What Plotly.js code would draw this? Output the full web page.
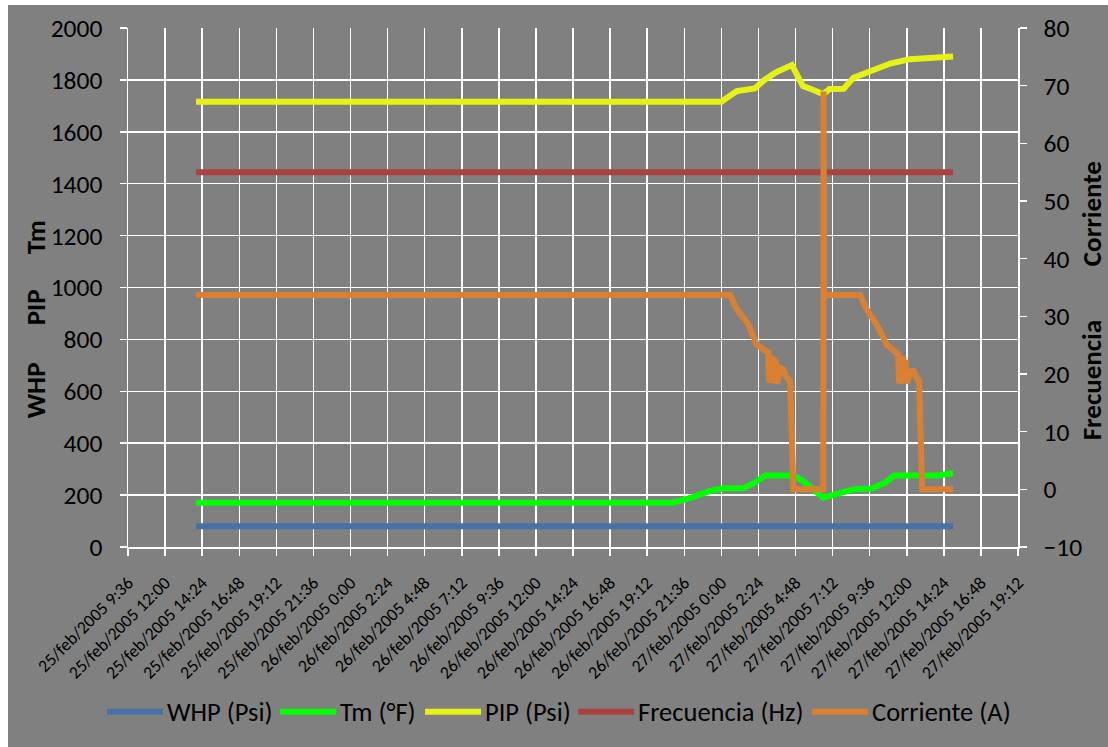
<!DOCTYPE html>
<html>
<head>
<meta charset="utf-8">
<script src="https://cdn.plot.ly/plotly-3.0.1.min.js"></script>
<style>
  html, body { margin: 0; padding: 0; background: #ffffff; }
  #chart { position: absolute; left: 8px; top: 5px; width: 1100px; height: 742px; }
</style>
</head>
<body>
<div id="chart"></div>
<script>
// ---- Data ----
const whpTime = ['2005-02-25 14:00', '2005-02-27 15:00'];
const whpPsi  = [80, 80];

const tmTime = ['2005-02-25 14:00', '2005-02-26 20:54', '2005-02-26 22:12', '2005-02-26 23:16',
  '2005-02-27 00:08', '2005-02-27 01:25', '2005-02-27 02:10', '2005-02-27 02:50', '2005-02-27 04:40',
  '2005-02-27 05:18', '2005-02-27 06:36', '2005-02-27 07:28', '2005-02-27 08:33', '2005-02-27 09:44',
  '2005-02-27 10:36', '2005-02-27 11:12', '2005-02-27 14:00', '2005-02-27 15:00'];
const tmF = [171, 171, 193, 216, 226, 226, 248, 276, 276, 254, 190, 203, 222, 225, 248, 276, 276, 284];

const pipTime = ['2005-02-25 14:00', '2005-02-27 00:00', '2005-02-27 01:00', '2005-02-27 02:10',
  '2005-02-27 02:50', '2005-02-27 03:30', '2005-02-27 04:34', '2005-02-27 05:17', '2005-02-27 06:00',
  '2005-02-27 06:36', '2005-02-27 07:00', '2005-02-27 07:55', '2005-02-27 08:33', '2005-02-27 09:51',
  '2005-02-27 10:56', '2005-02-27 12:12', '2005-02-27 13:30', '2005-02-27 15:00'];
const pipPsi = [1716, 1716, 1757, 1767, 1802, 1828, 1857, 1776, 1760, 1745, 1765, 1766, 1808, 1841,
  1863, 1880, 1886, 1890];

const frecTime = ['2005-02-25 14:00', '2005-02-27 15:00'];
const frecHz   = [55, 55];

const corrTime = ['2005-02-25 14:00', '2005-02-27 00:34', '2005-02-27 01:00', '2005-02-27 01:45',
  '2005-02-27 02:17', '2005-02-27 03:02', '2005-02-27 03:06', '2005-02-27 03:10', '2005-02-27 03:13',
  '2005-02-27 03:17', '2005-02-27 03:20', '2005-02-27 03:24', '2005-02-27 03:28', '2005-02-27 03:31',
  '2005-02-27 03:36', '2005-02-27 03:42', '2005-02-27 03:51', '2005-02-27 04:00', '2005-02-27 04:12',
  '2005-02-27 04:27', '2005-02-27 04:40', '2005-02-27 06:36', '2005-02-27 06:37', '2005-02-27 06:39',
  '2005-02-27 08:59', '2005-02-27 09:24', '2005-02-27 10:03', '2005-02-27 10:42', '2005-02-27 11:27',
  '2005-02-27 11:30', '2005-02-27 11:33', '2005-02-27 11:37', '2005-02-27 11:40', '2005-02-27 11:44',
  '2005-02-27 11:47', '2005-02-27 11:51', '2005-02-27 11:55', '2005-02-27 12:00', '2005-02-27 12:12',
  '2005-02-27 12:24', '2005-02-27 12:36', '2005-02-27 12:48', '2005-02-27 13:00', '2005-02-27 15:00'];
const corrA = [33.7, 33.7, 31.2, 28.6, 25.1, 23.7, 18.6, 23.2, 18.4, 23.0, 18.6, 22.8, 18.8, 22.5,
  18.3, 19.5, 21.0, 20.8, 19.5, 18.8, 0, 0, 69, 33.7, 33.7, 31.2, 28.6, 25.1, 23.4, 18.4, 23.2, 18.3,
  23.0, 18.5, 22.8, 18.6, 22.4, 18.4, 20.0, 20.8, 19.5, 18.8, 0, 0];

const seriesNames  = ['WHP (Psi)', 'Tm (°F)', 'PIP (Psi)', 'Frecuencia (Hz)', 'Corriente (A)'];
const seriesColors = ['#4672A8', '#00FF00', '#E6F214', '#A9423F', '#DA8033'];

const xTickLabels = ['25/feb/2005 9:36', '25/feb/2005 12:00', '25/feb/2005 14:24', '25/feb/2005 16:48',
  '25/feb/2005 19:12', '25/feb/2005 21:36', '26/feb/2005 0:00', '26/feb/2005 2:24', '26/feb/2005 4:48',
  '26/feb/2005 7:12', '26/feb/2005 9:36', '26/feb/2005 12:00', '26/feb/2005 14:24', '26/feb/2005 16:48',
  '26/feb/2005 19:12', '26/feb/2005 21:36', '27/feb/2005 0:00', '27/feb/2005 2:24', '27/feb/2005 4:48',
  '27/feb/2005 7:12', '27/feb/2005 9:36', '27/feb/2005 12:00', '27/feb/2005 14:24', '27/feb/2005 16:48',
  '27/feb/2005 19:12'];

// ---- Axis tick positions (every 2.4 h from 25/feb 9:36) ----
function pad(n) { return (n < 10 ? '0' : '') + n; }
function fmt(ms) {
  const d = new Date(ms);
  return d.getUTCFullYear() + '-' + pad(d.getUTCMonth() + 1) + '-' + pad(d.getUTCDate()) + ' ' +
    pad(d.getUTCHours()) + ':' + pad(d.getUTCMinutes());
}
const t0 = Date.UTC(2005, 1, 25, 9, 36);
const step = 2.4 * 3600 * 1000;
const xTickVals = xTickLabels.map((_, i) => fmt(t0 + i * step));

const FONT = 'Carlito, Calibri, Lato, sans-serif';

const traces = [
  { x: whpTime, y: whpPsi, yaxis: 'y' },
  { x: tmTime, y: tmF, yaxis: 'y' },
  { x: pipTime, y: pipPsi, yaxis: 'y' },
  { x: frecTime, y: frecHz, yaxis: 'y2' },
  { x: corrTime, y: corrA, yaxis: 'y2' }
].map((t, i) => Object.assign(t, {
  type: 'scatter', mode: 'lines', name: seriesNames[i], showlegend: false,
  line: { color: seriesColors[i], width: 6 }, hoverinfo: 'x+y+name'
}));

// ---- custom legend (Excel-style long line samples) ----
const L = 128, W = 890, B = 546.5, H = 518.5; // plot area in page px
function px(x) { return (x - L) / W; }
function py(y) { return (B - y) / H; }
const legLineStart = [107, 280, 425, 578, 812];
const legLineLen = 56;
const legY = 711;
const shapes = [];
const annotations = [];
seriesNames.forEach((n, i) => {
  shapes.push({ type: 'line', xref: 'paper', yref: 'paper',
    x0: px(legLineStart[i]), x1: px(legLineStart[i] + legLineLen), y0: py(legY), y1: py(legY),
    line: { color: seriesColors[i], width: 6 } });
  annotations.push({ xref: 'paper', yref: 'paper', x: px(legLineStart[i] + legLineLen + 2), y: py(legY),
    xanchor: 'left', yanchor: 'middle', showarrow: false, text: n,
    font: { family: FONT, size: 26.5, color: '#000000' } });
});
// axis titles
const titleFont = { family: FONT, size: 27, color: '#000000', weight: 'bold' };
[['WHP', 35, 390], ['PIP', 35, 307], ['Tm', 35, 237], ['Corriente', 1091, 214], ['Frecuencia', 1091, 380]]
  .forEach(a => annotations.push({ xref: 'paper', yref: 'paper', x: px(a[1]), y: py(a[2]),
    xanchor: 'center', yanchor: 'middle', showarrow: false, textangle: -90,
    text: '<b>' + a[0] + '</b>', font: titleFont }));

const layout = {
  width: 1100, height: 742,
  margin: { l: 120, r: 90, t: 23, b: 200 },
  paper_bgcolor: '#808080', plot_bgcolor: '#808080',
  showlegend: false,
  font: { family: FONT, color: '#000000' },
  xaxis: {
    type: 'date', range: [fmt(t0), fmt(t0 + 24 * step)],
    tickmode: 'array', tickvals: xTickVals, ticktext: xTickLabels, tickangle: -45,
    tickfont: { family: FONT, size: 17.7, color: '#000000' },
    showgrid: true, gridcolor: '#FFFFFF', gridwidth: 1.5,
    showline: true, linecolor: '#FFFFFF', linewidth: 1.5,
    ticks: 'outside', ticklen: 7, tickcolor: '#FFFFFF', tickwidth: 1.5,
    zeroline: false, ticklabelstandoff: 10
  },
  yaxis: {
    range: [0, 2000], dtick: 200, tick0: 0,
    tickfont: { family: FONT, size: 25.5, color: '#000000' },
    showgrid: true, gridcolor: '#FFFFFF', gridwidth: 1.5,
    showline: true, linecolor: '#FFFFFF', linewidth: 1.5,
    ticks: 'outside', ticklen: 7, tickcolor: '#FFFFFF', tickwidth: 1.5,
    zeroline: false, ticklabelstandoff: 12
  },
  yaxis2: {
    range: [-10, 80], dtick: 10, tick0: 0, overlaying: 'y', side: 'right',
    tickfont: { family: FONT, size: 25.5, color: '#000000' },
    showgrid: false,
    showline: true, linecolor: '#FFFFFF', linewidth: 1.5,
    ticks: 'outside', ticklen: 7, tickcolor: '#FFFFFF', tickwidth: 1.5,
    zeroline: false, ticklabelstandoff: 12
  },
  shapes: shapes,
  annotations: annotations
};

Plotly.newPlot('chart', traces, layout, { displayModeBar: false, staticPlot: true });
</script>
</body>
</html>
